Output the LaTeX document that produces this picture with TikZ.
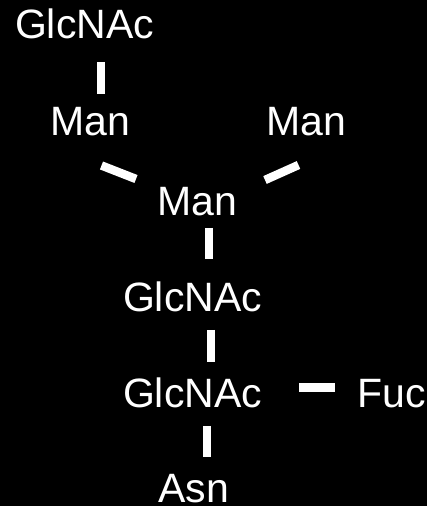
\documentclass[tikz,border=0pt]{standalone}
\usepackage{fontspec}
\setmainfont{Liberation Sans}
\begin{document}
\begin{tikzpicture}[x=1pt,y=1pt,
  sugar/.style={text=white,inner sep=0pt,anchor=base,font=\fontsize{41}{41}\selectfont},
  bond/.style={draw=white,line width=8.5pt,line cap=butt}]
\fill[black] (0,0) rectangle (427,506);
\useasboundingbox (0,0) rectangle (427,506);
\node[sugar] (g1) at (84.5,467) {GlcNAc};
\node[sugar] (m1) at (90,370) {Man};
\node[sugar] (m2) at (306,370) {Man};
\node[sugar] (m3) at (197.5,290) {Man};
\node[sugar] (g2) at (192.5,194) {GlcNAc};
\node[sugar] (g3) at (192.5,98) {GlcNAc};
\node[sugar] (fuc) at (391.5,98) {Fuc};
\node[sugar] (asn) at (193.5,3.5) {Asn};
\coordinate (a1) at (101,444); \coordinate (a2) at (101,412);
\coordinate (b1) at (101.5,340.5); \coordinate (b2) at (136,327);
\coordinate (c1) at (265,326); \coordinate (c2) at (298.5,341);
\coordinate (d1) at (209,278); \coordinate (d2) at (209,247);
\coordinate (e1) at (211,176); \coordinate (e2) at (211,144);
\coordinate (f1) at (299,118.5); \coordinate (f2) at (335,118.5);
\coordinate (h1) at (207,80); \coordinate (h2) at (207,49);
\draw[bond] (a1) -- (a2);
\draw[bond] (b1) -- (b2);
\draw[bond] (c1) -- (c2);
\draw[bond] (d1) -- (d2);
\draw[bond] (e1) -- (e2);
\draw[bond] (f1) -- (f2);
\draw[bond] (h1) -- (h2);
\end{tikzpicture}
\end{document}
